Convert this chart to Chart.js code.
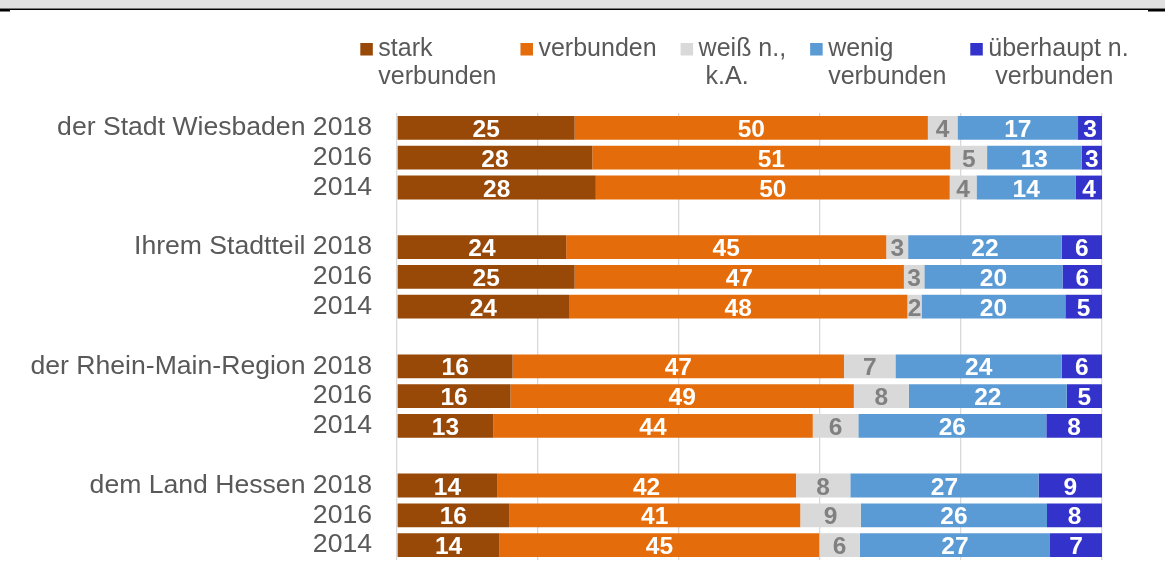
<!DOCTYPE html>
<html><head><meta charset="utf-8">
<script src="https://cdn.jsdelivr.net/npm/chart.js@4"></script>
<style>html,body{margin:0;padding:0;background:#fff}canvas{display:block}</style>
</head><body>
<canvas id="c" width="1165" height="574"></canvas>
<script>
// ---- data ----
const categories = ['der Stadt Wiesbaden 2018','2016','2014','','Ihrem Stadtteil 2018','2016','2014','','der Rhein-Main-Region 2018','2016','2014','','dem Land Hessen 2018','2016','2014'];
const seriesNames = ['stark verbunden','verbunden','weiß n., k.A.','wenig verbunden','überhaupt n. verbunden'];
const legendLines = [['stark','verbunden'],['verbunden'],['weiß n.,',' k.A.'],['wenig','verbunden'],['überhaupt n.',' verbunden']];
const starkVerbunden  = [25.2,27.7,28.2,null,24.0,25.2,24.4,null,16.4,16.1,13.3,null,14.2,15.9,14.4];
const verbunden       = [50.1,50.8,50.2,null,45.4,46.7,48.0,null,47.0,48.7,44.2,null,42.4,41.3,44.9];
const weissNicht      = [4.2,5.2,3.8,null,3.1,2.9,2.0,null,7.3,7.8,6.3,null,7.7,8.6,5.7];
const wenigVerbunden  = [17.1,13.4,14.1,null,21.8,19.6,20.4,null,23.6,22.4,26.0,null,26.7,26.4,26.7];
const ueberhauptNicht = [3.4,2.9,3.7,null,5.7,5.6,5.2,null,5.7,5.0,7.7,null,9.0,7.8,7.3];
const xTicks = [0,20,40,60,80,100];

const rawSeries = [starkVerbunden, verbunden, weissNicht, wenigVerbunden, ueberhauptNicht];
const colors = ['#984807','#E46C0A','#D9D9D9','#5B9BD5','#3333CC'];
const labelColors = ['#FFFFFF','#FFFFFF','#808080','#FFFFFF','#FFFFFF'];
const totals = categories.map((_, i) => rawSeries.reduce((s, a) => s + (a[i] || 0), 0));

const datasets = rawSeries.map((arr, k) => ({
  label: seriesNames[k],
  data: arr.map((v, i) => v == null ? null : v / totals[i] * 100),
  raw: arr,
  backgroundColor: colors[k],
  borderWidth: 0,
  barPercentage: 0.8,
  categoryPercentage: 1
}));

const FONT = '"Liberation Sans", Arial, sans-serif';
const TEXT = '#595959';

const topBand = {
  id: 'topBand',
  beforeDraw(chart) {
    const c = chart.ctx;
    c.save();
    c.fillStyle = '#E0E0E0';
    c.fillRect(0, 0, chart.width, 8.5);
    c.fillStyle = '#000';
    c.fillRect(0, 8.5, chart.width, 1.5);
    c.fillRect(0, 10, 10, 1.5);
    c.fillRect(1148, 10, 17, 1.5);
    c.restore();
  }
};

const valueLabels = {
  id: 'valueLabels',
  afterDatasetsDraw(chart) {
    const c = chart.ctx;
    c.save();
    c.font = 'bold 24.5px ' + FONT;
    c.textAlign = 'center';
    c.textBaseline = 'alphabetic';
    chart.data.datasets.forEach((ds, k) => {
      const meta = chart.getDatasetMeta(k);
      meta.data.forEach((el, i) => {
        const v = ds.raw[i];
        if (v == null) return;
        const p = el.getProps(['x', 'y', 'base'], true);
        const cx = (p.x + p.base) / 2;
        c.fillStyle = labelColors[k];
        c.fillText(String(Math.round(v)), cx, p.y + 9);
      });
    });
    c.restore();
  }
};

const customLegend = {
  id: 'customLegend',
  afterDraw(chart) {
    const c = chart.ctx;
    c.save();
    c.font = '25px ' + FONT;
    c.textBaseline = 'alphabetic';
    c.textAlign = 'left';
    const box = 12.5, boxGap = 5.5, itemGap = 24;
    const widths = legendLines.map(lines => box + boxGap + Math.max(...lines.map(t => c.measureText(t).width)));
    const total = widths.reduce((a, b) => a + b, 0) + itemGap * (widths.length - 1);
    const center = (chart.chartArea.left + chart.chartArea.right) / 2 - 5;
    let x = center - total / 2;
    legendLines.forEach((lines, k) => {
      c.fillStyle = colors[k];
      c.fillRect(x, 43, box, box);
      c.fillStyle = TEXT;
      lines.forEach((t, j) => c.fillText(t, x + box + boxGap, 56 + j * 28));
      x += widths[k] + itemGap;
    });
    c.restore();
  }
};

new Chart(document.getElementById('c'), {
  type: 'bar',
  data: { labels: categories, datasets },
  plugins: [topBand, valueLabels, customLegend],
  options: {
    indexAxis: 'y',
    responsive: false,
    animation: false,
    devicePixelRatio: 1,
    layout: { padding: { left: 0, top: 113, right: 63, bottom: 14 } },
    plugins: { legend: { display: false }, tooltip: { enabled: false } },
    scales: {
      x: {
        stacked: true,
        min: xTicks[0],
        max: xTicks[xTicks.length - 1],
        afterBuildTicks(scale) { scale.ticks = xTicks.map(v => ({ value: v })); },
        ticks: { display: false },
        grid: { color: '#D9D9D9', lineWidth: 1.3, drawTicks: false },
        border: { display: false },
        afterFit(scale) { scale.height = 0; scale.paddingLeft = 0; scale.paddingRight = 0; }
      },
      y: {
        stacked: true,
        grid: { display: false, drawTicks: false },
        border: { display: false },
        ticks: { color: TEXT, font: { family: FONT, size: 26.6 }, padding: 25, autoSkip: false },
        afterFit(scale) { scale.width = 397; scale.paddingTop = 0; scale.paddingBottom = 0; }
      }
    }
  }
});
</script>
</body></html>
